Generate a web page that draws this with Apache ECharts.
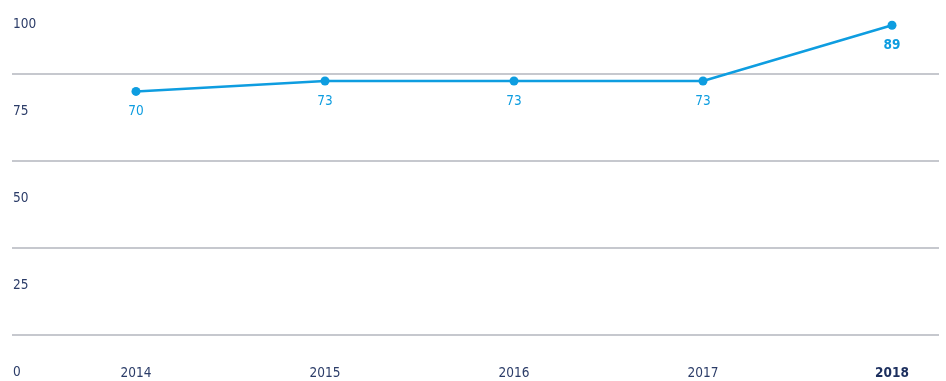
<!DOCTYPE html>
<html>
<head>
<meta charset="utf-8">
<script src="https://cdn.jsdelivr.net/npm/echarts@6/dist/echarts.min.js"></script>
<style>
  html, body { margin: 0; padding: 0; background: #ffffff; }
  #chart { width: 946px; height: 381px; }
</style>
</head>
<body>
<div id="chart"></div>
<script>
// Annual index values
const years = ['2014', '2015', '2016', '2017', '2018'];
const values = [70, 73, 73, 73, 89];
const yTicks = [0, 25, 50, 75, 100];

const FONT = '"DejaVu Sans Condensed", "Noto Sans", sans-serif';
const FONT_SIZE = 13.5;
const NAVY = '#2b3c68';
const BLUE = '#0e9de0';

const chart = echarts.init(document.getElementById('chart'), null, { renderer: 'canvas' });

// Shared vertical layout for both grids: value 0 sits on the lowest rule,
// value 100 lies just above the top edge
const vTop = -13;
const vBottom = 46;

chart.setOption({
  animation: false,
  backgroundColor: '#ffffff',
  grid: [
    // full-width grid carrying the horizontal rules and the value labels
    { left: 12, right: 7, top: vTop, bottom: vBottom, outerBoundsMode: 'none', containLabel: false },
    // inner grid carrying the line and the year labels
    { left: 136, right: 54, top: vTop, bottom: vBottom, outerBoundsMode: 'none', containLabel: false }
  ],
  xAxis: [
    { gridIndex: 0, type: 'value', min: 0, max: 1, show: false },
    {
      gridIndex: 1,
      type: 'category',
      boundaryGap: false,
      data: years,
      axisLine: { show: false },
      axisTick: { show: false },
      splitLine: { show: false },
      axisLabel: {
        margin: 31,
        color: NAVY,
        fontFamily: FONT,
        fontSize: FONT_SIZE,
        formatter: (v, i) => (i === years.length - 1 ? '{b|' + v + '}' : v),
        rich: {
          b: { fontWeight: 'bold', color: '#1c2f5e', fontFamily: FONT, fontSize: FONT_SIZE }
        }
      }
    }
  ],
  yAxis: [
    {
      gridIndex: 0,
      type: 'value',
      min: yTicks[0],
      max: yTicks[yTicks.length - 1],
      interval: yTicks[1] - yTicks[0],
      axisLine: { show: false },
      axisTick: { show: false },
      splitLine: { show: true, lineStyle: { color: '#c6c8ce', width: 2 } },
      axisLabel: {
        inside: true,
        margin: 1,
        align: 'left',
        verticalAlign: 'middle',
        // value labels sit in the band below their rule
        formatter: (v) => '{t|' + v + '}',
        rich: {
          t: {
            padding: [74, 0, 0, 0],
            color: NAVY,
            fontFamily: FONT,
            fontSize: FONT_SIZE
          }
        }
      }
    },
    {
      gridIndex: 1,
      type: 'value',
      min: yTicks[0],
      max: yTicks[yTicks.length - 1],
      show: false,
      splitLine: { show: false }
    }
  ],
  series: [
    {
      type: 'line',
      xAxisIndex: 1,
      yAxisIndex: 1,
      data: values.map((v, i) => ({
        value: v,
        label: i === values.length - 1 ? { fontWeight: 'bold' } : undefined
      })),
      symbol: 'circle',
      symbolSize: 9,
      lineStyle: { color: BLUE, width: 2.5 },
      itemStyle: { color: BLUE },
      label: {
        show: true,
        position: 'bottom',
        distance: 9,
        color: BLUE,
        fontFamily: FONT,
        fontSize: FONT_SIZE
      },
      z: 5
    }
  ]
});
</script>
</body>
</html>
